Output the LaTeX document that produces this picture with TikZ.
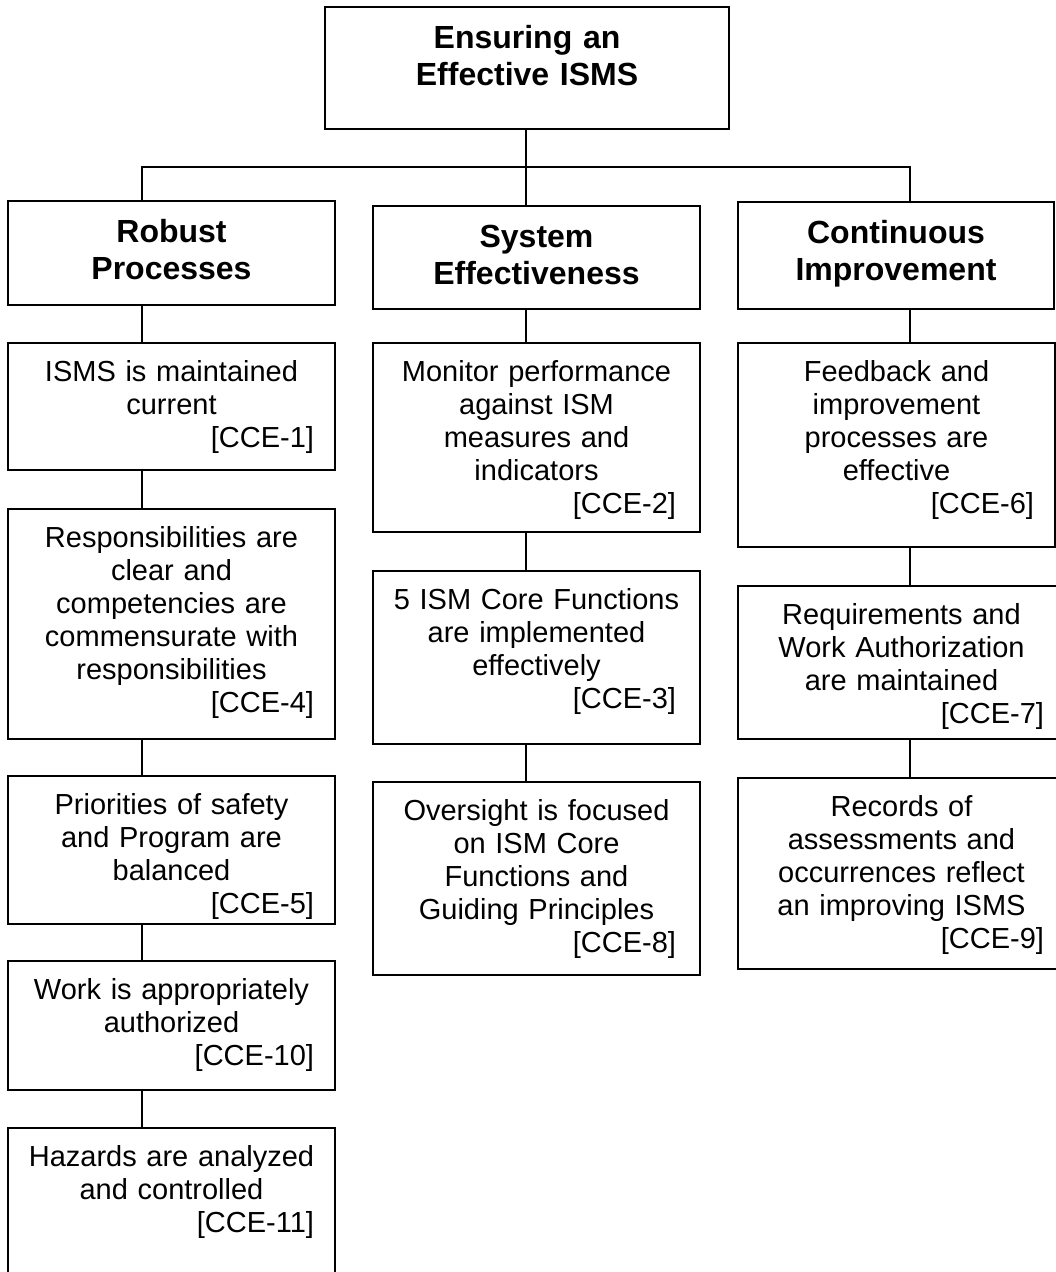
\documentclass[tikz,border=0pt]{standalone}
\usepackage{fontspec}
\setmainfont{Liberation Sans}
\newcommand{\ccetag}[2][17pt]{\makebox[\linewidth][r]{[CCE-#2]\hspace*{#1}}}

\begin{document}
\begin{tikzpicture}[x=1pt, y=-1pt,
    head/.style = {draw, line width=2pt, anchor=north west, align=center, inner xsep=4pt, inner ysep=0pt,
        font=\fontsize{32}{37}\selectfont\bfseries, text height=41pt},
    item/.style = {draw, line width=2pt, anchor=north west, align=center, inner xsep=4pt, inner ysep=0pt,
        font=\fontsize{29}{33}\selectfont, text height=38pt},
    link/.style = {line width=2pt}]
    \useasboundingbox (0,0) rectangle (1056,1272);
    \clip (0,0) rectangle (1056,1272);
    \coordinate (c1) at (142,0);
    \coordinate (c2) at (526,0);
    \coordinate (c3) at (910,0);
    \coordinate (bus) at (0,167);
    % headings
    \node[head, text width=396pt, text depth=81pt] (top) at (324,6) {Ensuring an\\Effective ISMS};
    \node[head, text width=319pt, text depth=63pt] (robust) at (7,200) {Robust\\Processes};
    \node[head, text width=319pt, text depth=62pt] (system) at (372,205) {System\\Effectiveness};
    \node[head, text width=308pt, text depth=66pt] (improve) at (737,201) {Continuous\\Improvement};
    % left column
    \node[item, text width=319pt, text depth=89pt] (cce1) at (7,342) {ISMS is maintained\\current\\\ccetag{1}};
    \node[item, text width=319pt, text depth=192pt] (cce4) at (7,508) {Responsibilities are\\clear and\\competencies are\\commensurate with\\responsibilities\\\ccetag{4}};
    \node[item, text width=319pt, text depth=110pt] (cce5) at (7,775) {Priorities of safety\\and Program are\\balanced\\\ccetag{5}};
    \node[item, text width=319pt, text depth=91pt] (cce10) at (7,960) {Work is appropriately\\authorized\\\ccetag{10}};
    \node[item, text width=319pt, text depth=122pt] (cce11) at (7,1127) {Hazards are analyzed\\and controlled\\\ccetag{11}};
    % middle column
    \node[item, text width=319pt, text depth=151pt] (cce2) at (372,342) {Monitor performance\\against ISM\\measures and\\indicators\\\ccetag[20pt]{2}};
    \node[item, text width=319pt, text depth=135pt] (cce3) at (372,570) {5 ISM Core Functions\\are implemented\\effectively\\\ccetag[20pt]{3}};
    \node[item, text width=319pt, text depth=155pt] (cce8) at (372,781) {Oversight is focused\\on ISM Core\\Functions and\\Guiding Principles\\\ccetag[20pt]{8}};
    % right column
    \node[item, text width=309pt, text depth=166pt] (cce6) at (737,342) {Feedback and\\improvement\\processes are\\effective\\\ccetag{6}};
    \node[item, text width=319pt, text depth=115pt] (cce7) at (737,585) {Requirements and\\Work Authorization\\are maintained\\\ccetag{7}};
    \node[item, text width=319pt, text depth=153pt] (cce9) at (737,777) {Records of\\assessments and\\occurrences reflect\\an improving ISMS\\\ccetag{9}};
    % connectors
    \draw[link] (top.south -| c2) -- (system.north -| c2);
    \draw[link] (robust.north -| c1) -- (bus -| c1) -- (bus -| c3) -- (improve.north -| c3);
    \draw[link] (robust.south -| c1) -- (cce1.north -| c1);
    \draw[link] (cce1.south -| c1) -- (cce4.north -| c1);
    \draw[link] (cce4.south -| c1) -- (cce5.north -| c1);
    \draw[link] (cce5.south -| c1) -- (cce10.north -| c1);
    \draw[link] (cce10.south -| c1) -- (cce11.north -| c1);
    \draw[link] (system.south -| c2) -- (cce2.north -| c2);
    \draw[link] (cce2.south -| c2) -- (cce3.north -| c2);
    \draw[link] (cce3.south -| c2) -- (cce8.north -| c2);
    \draw[link] (improve.south -| c3) -- (cce6.north -| c3);
    \draw[link] (cce6.south -| c3) -- (cce7.north -| c3);
    \draw[link] (cce7.south -| c3) -- (cce9.north -| c3);
\end{tikzpicture}
\end{document}
